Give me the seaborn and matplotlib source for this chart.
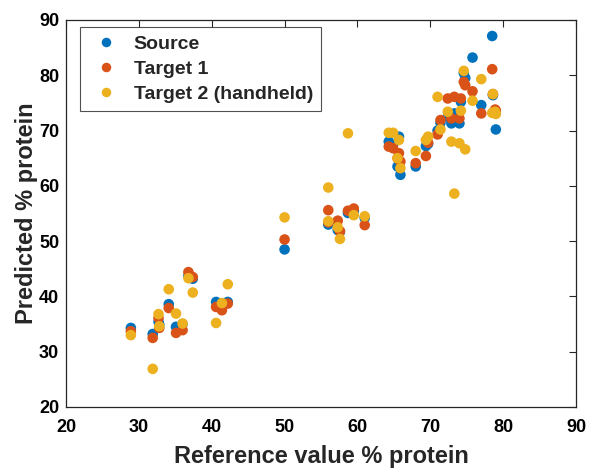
import matplotlib
matplotlib.use("Agg")
import matplotlib.pyplot as plt
import seaborn as sns
import pandas as pd

sns.set_theme(style="white")
plt.rcParams['font.family'] = ['Liberation Sans', 'DejaVu Sans']

# Reference values (x) shared by the three series
reference = [28.9, 31.9, 32.7, 32.8, 34.1, 35.1, 36.0, 36.8, 37.4, 40.6, 41.4, 42.2,
             50.0, 56.0, 56.0, 57.3, 57.6, 58.7, 59.5, 61.0,
             64.3, 64.9, 65.7, 65.5, 65.9, 68.0, 69.4, 69.7, 71.0, 71.4,
             72.4, 72.9, 73.3, 74.0, 74.2, 74.6, 74.8, 75.8, 77.0, 78.6, 78.9, 78.5, 79.0]

source = [34.3, 33.2, 35.4, 34.9, 38.6, 34.5, 35.0, 43.7, 43.2, 39.0, 38.5, 39.0,
          48.5, 53.3, 53.0, 52.0, 51.7, 55.1, 55.5, 54.2,
          68.0, 67.5, 68.9, 63.5, 62.0, 63.5, 67.2, 67.6, 70.0, 71.4,
          72.5, 71.3, 73.1, 71.3, 75.2, 80.4, 79.5, 83.2, 74.6, 76.4, 73.5, 87.1, 70.2]

target1 = [33.7, 32.5, 36.1, 34.3, 37.9, 33.4, 33.9, 44.4, 43.5, 38.1, 37.5, 38.7,
           50.3, 55.6, 53.4, 53.7, 51.8, 55.5, 55.9, 52.9,
           67.1, 66.8, 65.9, 65.0, 64.4, 64.1, 65.4, 67.8, 69.3, 71.9,
           75.8, 72.2, 76.1, 72.2, 75.8, 78.8, 78.2, 77.1, 73.1, 76.6, 73.8, 81.1, 73.6]

target2 = [33.0, 26.9, 36.8, 34.6, 41.3, 36.9, 35.1, 43.3, 40.7, 35.2, 38.8, 42.2,
           54.3, 59.7, 53.6, 52.5, 50.4, 69.5, 54.7, 54.5,
           69.6, 69.6, 68.3, 65.0, 63.2, 66.3, 68.3, 68.9, 76.1, 70.2,
           73.4, 68.0, 58.6, 67.7, 73.6, 80.8, 66.6, 75.4, 79.3, 76.6, 73.4, 73.2, 73.0]

series_names = ["Source", "Target 1", "Target 2 (handheld)"]
ticks = [20, 30, 40, 50, 60, 70, 80, 90]

df = pd.concat([
    pd.DataFrame({"ref": reference, "pred": vals, "set": name})
    for name, vals in zip(series_names, [source, target1, target2])
], ignore_index=True)

palette = {"Source": "#0072BD", "Target 1": "#D95319", "Target 2 (handheld)": "#EDB120"}

fig = plt.figure(figsize=(5.91, 4.69), dpi=100)
ax = fig.add_axes([0.1117, 0.1322, 0.8629, 0.8252])

sns.scatterplot(data=df, x="ref", y="pred", hue="set", palette=palette,
                hue_order=series_names, s=58, linewidth=0, alpha=1, ax=ax)

ax.set_xlim(20, 90)
ax.set_ylim(20, 90)
ax.set_xticks(ticks)
ax.set_yticks(ticks)
ax.set_xticklabels([str(t) for t in ticks])
ax.set_yticklabels([str(t) for t in ticks])
ax.tick_params(direction="in", length=5, width=0.8, top=True, right=True,
               labelsize=13, colors="#262626", labelcolor="black", pad=5)
ax.tick_params(axis="x", pad=9)
for lab in ax.get_xticklabels() + ax.get_yticklabels():
    lab.set_fontweight("bold")
for sp in ax.spines.values():
    sp.set_color("#262626")
    sp.set_linewidth(0.9)

ax.set_xlabel("Reference value % protein", fontsize=17, fontweight="bold", labelpad=6)
ax.set_ylabel("Predicted % protein", fontsize=17, fontweight="bold", labelpad=1)

handles, labels = ax.get_legend_handles_labels()
leg = ax.legend(handles, labels, loc="upper left", bbox_to_anchor=(0.027, 0.982),
                borderaxespad=0, frameon=True, fancybox=False,
                prop={"weight": "bold", "size": 14}, handletextpad=0.45,
                labelspacing=0.38, borderpad=0.42, handlelength=1.9, markerscale=0.9)
leg.get_frame().set_edgecolor("#262626")
leg.get_frame().set_linewidth(0.8)

fig.savefig("out.png", dpi=100)
